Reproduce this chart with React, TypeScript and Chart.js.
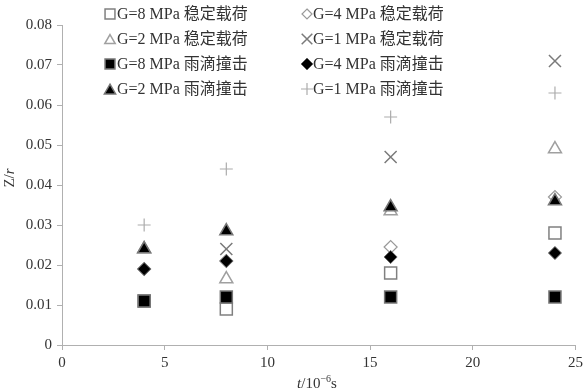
import React, { useEffect, useRef } from "react";
import { Chart, registerables } from "chart.js";

Chart.register(...registerables);

const times = [4, 8, 16, 24];
const xTicks = [0, 5, 10, 15, 20, 25];
const yTicks = [0, 0.01, 0.02, 0.03, 0.04, 0.05, 0.06, 0.07, 0.08];

// 稳定载荷 (steady load)
const g8Steady = [0.011, 0.009, 0.018, 0.028];
const g4Steady = [0.019, 0.021, 0.0245, 0.037];
const g2Steady = [0.024, 0.0165, 0.0335, 0.049];
const g1Steady = [null, 0.024, 0.047, 0.071];
// 雨滴撞击 (raindrop impact)
const g8Impact = [0.011, 0.012, 0.012, 0.012];
const g4Impact = [0.019, 0.021, 0.022, 0.023];
const g2Impact = [0.024, 0.0285, 0.0345, 0.036];
const g1Impact = [0.03, 0.044, 0.057, 0.063];

const labels = [
  "G=8 MPa 稳定载荷",
  "G=4 MPa 稳定载荷",
  "G=2 MPa 稳定载荷",
  "G=1 MPa 稳定载荷",
  "G=8 MPa 雨滴撞击",
  "G=4 MPa 雨滴撞击",
  "G=2 MPa 雨滴撞击",
  "G=1 MPa 雨滴撞击",
];

const SERIF = '"Liberation Serif", "Times New Roman", "Noto Sans CJK SC", serif';

type Sty = {
  style: string;
  r: number;
  lr: number;
  fill: string;
  stroke: string;
  lw: number;
  order: number;
};

const styles: Sty[] = [
  { style: "rect", r: 8.5, lr: 7, fill: "#ffffff", stroke: "#808080", lw: 1.5, order: 1 },
  { style: "rectRot", r: 6.5, lr: 5, fill: "#ffffff", stroke: "#9a9a9a", lw: 1.2, order: 1 },
  { style: "triangle", r: 7.5, lr: 6, fill: "#ffffff", stroke: "#a0a0a0", lw: 1.5, order: 1 },
  { style: "crossRot", r: 8.5, lr: 7.5, fill: "rgba(0,0,0,0)", stroke: "#7a7a7a", lw: 1.5, order: 1 },
  { style: "rect", r: 8.5, lr: 7, fill: "#000000", stroke: "#777777", lw: 1.5, order: 0 },
  { style: "rectRot", r: 6.5, lr: 6, fill: "#000000", stroke: "#666666", lw: 1, order: 0 },
  { style: "triangle", r: 7.5, lr: 6.5, fill: "#000000", stroke: "#777777", lw: 1.5, order: 0 },
  { style: "cross", r: 6.5, lr: 6, fill: "rgba(0,0,0,0)", stroke: "#acacac", lw: 1.2, order: 0 },
];

const seriesValues = [g8Steady, g4Steady, g2Steady, g1Steady, g8Impact, g4Impact, g2Impact, g1Impact];

function drawMarker(ctx: CanvasRenderingContext2D, s: Sty, x: number, y: number) {
  const r = s.lr;
  ctx.save();
  ctx.fillStyle = s.fill;
  ctx.strokeStyle = s.stroke;
  ctx.lineWidth = s.lw;
  ctx.beginPath();
  if (s.style === "rect") {
    const h = r * Math.SQRT1_2;
    ctx.rect(x - h, y - h, 2 * h, 2 * h);
    ctx.fill();
    ctx.stroke();
  } else if (s.style === "rectRot") {
    ctx.moveTo(x, y - r);
    ctx.lineTo(x + r, y);
    ctx.lineTo(x, y + r);
    ctx.lineTo(x - r, y);
    ctx.closePath();
    ctx.fill();
    ctx.stroke();
  } else if (s.style === "triangle") {
    const a = Math.sin(Math.PI / 3) * r;
    ctx.moveTo(x, y - r * 0.75);
    ctx.lineTo(x + a, y + r * 0.75);
    ctx.lineTo(x - a, y + r * 0.75);
    ctx.closePath();
    ctx.fill();
    ctx.stroke();
  } else if (s.style === "crossRot") {
    const h = r * Math.SQRT1_2;
    ctx.moveTo(x - h, y - h);
    ctx.lineTo(x + h, y + h);
    ctx.moveTo(x + h, y - h);
    ctx.lineTo(x - h, y + h);
    ctx.stroke();
  } else if (s.style === "cross") {
    ctx.moveTo(x - r, y);
    ctx.lineTo(x + r, y);
    ctx.moveTo(x, y - r);
    ctx.lineTo(x, y + r);
    ctx.stroke();
  }
  ctx.restore();
}

const overlayPlugin = {
  id: "overlay",
  afterDraw(chart: any) {
    const ctx: CanvasRenderingContext2D = chart.ctx;
    // Legend: 2 columns x 4 rows
    const colMarker = [110, 307];
    const colText = [117, 313];
    const rowY = [14, 39, 64, 89];
    ctx.save();
    ctx.font = `16px ${SERIF}`;
    ctx.textBaseline = "middle";
    ctx.textAlign = "left";
    for (let i = 0; i < labels.length; i++) {
      const col = i % 2;
      const row = Math.floor(i / 2);
      drawMarker(ctx, styles[i], colMarker[col], rowY[row]);
      ctx.fillStyle = "#333333";
      ctx.fillText(labels[i], colText[col], rowY[row] + 1);
    }
    ctx.restore();

    // Y axis title: Z/r (r italic)
    ctx.save();
    ctx.fillStyle = "#333333";
    ctx.textBaseline = "alphabetic";
    ctx.translate(14, 178);
    ctx.rotate(-Math.PI / 2);
    ctx.font = `15px ${SERIF}`;
    const p1 = "Z/";
    const w1 = ctx.measureText(p1).width;
    ctx.font = `italic 15px ${SERIF}`;
    const w2 = ctx.measureText("r").width;
    const sx = -(w1 + w2) / 2;
    ctx.font = `15px ${SERIF}`;
    ctx.fillText(p1, sx, 0);
    ctx.font = `italic 15px ${SERIF}`;
    ctx.fillText("r", sx + w1, 0);
    ctx.restore();

    // X axis title: t/10^-6 s
    ctx.save();
    ctx.fillStyle = "#333333";
    ctx.textBaseline = "alphabetic";
    const parts = [
      { t: "t", f: `italic 15px ${SERIF}`, dy: 0 },
      { t: "/10", f: `15px ${SERIF}`, dy: 0 },
      { t: "−6", f: `10px ${SERIF}`, dy: -6 },
      { t: "s", f: `15px ${SERIF}`, dy: 0 },
    ];
    let total = 0;
    const ws: number[] = [];
    for (const p of parts) {
      ctx.font = p.f;
      const w = ctx.measureText(p.t).width;
      ws.push(w);
      total += w;
    }
    let cx = 317 - total / 2;
    const base = 388;
    parts.forEach((p, i) => {
      ctx.font = p.f;
      ctx.fillText(p.t, cx, base + p.dy);
      cx += ws[i];
    });
    ctx.restore();
  },
};

export default function App() {
  const ref = useRef<HTMLCanvasElement | null>(null);

  useEffect(() => {
    document.body.style.margin = "0";
    const canvas = ref.current;
    if (!canvas) return;
    const datasets = seriesValues.map((vals, i) => {
      const s = styles[i];
      return {
        label: labels[i],
        data: times
          .map((t, j) => ({ x: t, y: vals[j] }))
          .filter((p) => p.y !== null && p.y !== undefined),
        showLine: false,
        pointStyle: s.style,
        pointRadius: s.r,
        pointBackgroundColor: s.fill,
        pointBorderColor: s.stroke,
        pointBorderWidth: s.lw,
        backgroundColor: s.fill,
        borderColor: s.stroke,
        order: s.order,
      };
    });
    const tickFont = { family: SERIF, size: 15 };
    const chart = new Chart(canvas, {
      type: "scatter",
      data: { datasets: datasets as any },
      options: {
        animation: false,
        responsive: false,
        devicePixelRatio: 1,
        events: [],
        layout: { padding: { top: 25, right: 10, left: 0, bottom: 0 } },
        plugins: {
          legend: { display: false },
          tooltip: { enabled: false },
        },
        scales: {
          x: {
            type: "linear",
            min: xTicks[0],
            max: xTicks[xTicks.length - 1],
            afterBuildTicks: (scale: any) => {
              scale.ticks = xTicks.map((v) => ({ value: v }));
            },
            ticks: {
              font: tickFont,
              color: "#333333",
              padding: 4,
              maxRotation: 0,
              autoSkip: false,
              callback: (v: any) => String(v),
            },
            grid: {
              drawOnChartArea: false,
              drawTicks: true,
              tickLength: 5,
              color: "#b0b0b0",
            },
            border: { display: true, color: "#b0b0b0" },
            afterFit: (scale: any) => {
              scale.height = 47;
            },
          },
          y: {
            type: "linear",
            min: yTicks[0],
            max: yTicks[yTicks.length - 1],
            afterBuildTicks: (scale: any) => {
              scale.ticks = yTicks.map((v) => ({ value: v }));
            },
            ticks: {
              font: tickFont,
              color: "#333333",
              padding: 5,
              autoSkip: false,
              callback: (v: any) => (Number(v) === 0 ? "0" : Number(v).toFixed(2)),
            },
            grid: {
              drawOnChartArea: false,
              drawTicks: true,
              tickLength: 5,
              color: "#b0b0b0",
            },
            border: { display: true, color: "#b0b0b0" },
            afterFit: (scale: any) => {
              scale.width = 62;
            },
          },
        },
      } as any,
      plugins: [overlayPlugin],
    });
    return () => chart.destroy();
  }, []);

  return (
    <div style={{ width: 587, height: 392, background: "#fff" }}>
      <canvas ref={ref} width={587} height={392} style={{ display: "block" }} />
    </div>
  );
}
